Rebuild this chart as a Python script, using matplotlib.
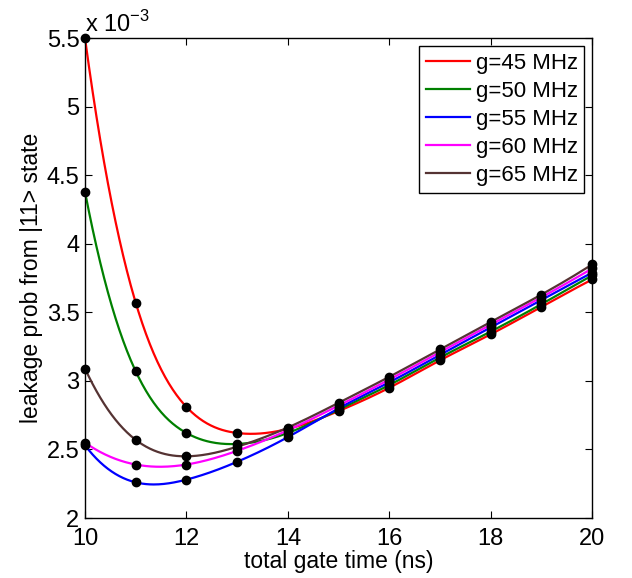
import matplotlib
matplotlib.use("Agg")
import matplotlib.pyplot as plt
import numpy as np

plt.rcParams['font.family'] = ['Liberation Sans', 'DejaVu Sans']
plt.rcParams['mathtext.fontset'] = 'custom'
plt.rcParams['mathtext.rm'] = 'Liberation Sans'

# gate times (ns) and leakage probability (x 1e-3)
gate_time = [10, 11, 12, 13, 14, 15, 16, 17, 18, 19, 20]
labels = ["g=45 MHz", "g=50 MHz", "g=55 MHz", "g=60 MHz", "g=65 MHz"]
colors = ["#ff0000", "#008000", "#0000ff", "#ff00ff", "#553333"]

leak_45 = [5.50, 3.57, 2.81, 2.62, 2.65, 2.78, 2.95, 3.15, 3.34, 3.54, 3.74]
leak_50 = [4.38, 3.07, 2.62, 2.54, 2.62, 2.79, 2.97, 3.17, 3.36, 3.56, 3.77]
leak_55 = [2.53, 2.26, 2.28, 2.41, 2.59, 2.80, 2.99, 3.19, 3.39, 3.59, 3.79]
leak_60 = [2.55, 2.39, 2.39, 2.49, 2.64, 2.82, 3.01, 3.21, 3.41, 3.61, 3.82]
leak_65 = [3.09, 2.57, 2.45, 2.52, 2.66, 2.84, 3.03, 3.23, 3.43, 3.63, 3.85]
series = [leak_45, leak_50, leak_55, leak_60, leak_65]


def spline(x, y, xs):
    # not-a-knot cubic spline through the measured points (for the drawn curve)
    x = np.asarray(x, float)
    y = np.asarray(y, float)
    n = len(x)
    h = np.diff(x)
    A = np.zeros((n, n))
    b = np.zeros(n)
    A[0, 0], A[0, 1], A[0, 2] = h[1], -(h[0] + h[1]), h[0]
    A[-1, -3], A[-1, -2], A[-1, -1] = h[-1], -(h[-2] + h[-1]), h[-2]
    for i in range(1, n - 1):
        A[i, i - 1] = h[i - 1]
        A[i, i] = 2 * (h[i - 1] + h[i])
        A[i, i + 1] = h[i]
        b[i] = 3 * ((y[i + 1] - y[i]) / h[i] - (y[i] - y[i - 1]) / h[i - 1])
    c = np.linalg.solve(A, b)
    bb = (y[1:] - y[:-1]) / h - h * (2 * c[:-1] + c[1:]) / 3
    d = (c[1:] - c[:-1]) / (3 * h)
    idx = np.clip(np.searchsorted(x, xs) - 1, 0, n - 2)
    t = xs - x[idx]
    return y[idx] + bb[idx] * t + c[idx] * t ** 2 + d[idx] * t ** 3


fig = plt.figure(figsize=(6.32, 5.78), dpi=100)
ax = fig.add_axes([0.1345, 0.1038, 0.8025, 0.8302])

xs = np.linspace(gate_time[0], gate_time[-1], 400)
for vals, lab, col in zip(series, labels, colors):
    ax.plot(xs, spline(gate_time, vals, xs), color=col, lw=1.6, label=lab)
for vals in series:
    ax.plot(gate_time, vals, 'o', color='black', ms=6, zorder=5, clip_on=False)

ax.set_xlim(10, 20)
ax.set_ylim(2, 5.5)
ax.set_xticks([10, 12, 14, 16, 18, 20])
ax.set_yticks([2, 2.5, 3, 3.5, 4, 4.5, 5, 5.5])
ax.set_yticklabels(["2", "2.5", "3", "3.5", "4", "4.5", "5", "5.5"])
ax.tick_params(direction='in', top=True, right=True, labelsize=17, length=5)
ax.tick_params(axis='x', pad=7)
ax.tick_params(axis='y', pad=4)
for s in ax.spines.values():
    s.set_linewidth(1.0)

ax.set_xlabel("total gate time (ns)", fontsize=16.5, labelpad=0)
ax.set_ylabel("leakage prob from |11> state", fontsize=16.5, labelpad=3)
ax.text(0.0, 1.003, r"x 10$^{-3}$", transform=ax.transAxes, fontsize=17,
        ha='left', va='bottom')

leg = ax.legend(loc='upper right', fontsize=16, handlelength=2.0,
                handletextpad=0.25, labelspacing=0.32, borderpad=0.3,
                borderaxespad=0.35, fancybox=False, framealpha=1)
leg.get_frame().set_edgecolor('black')
leg.get_frame().set_linewidth(1.0)

fig.savefig("out.png", dpi=100)
